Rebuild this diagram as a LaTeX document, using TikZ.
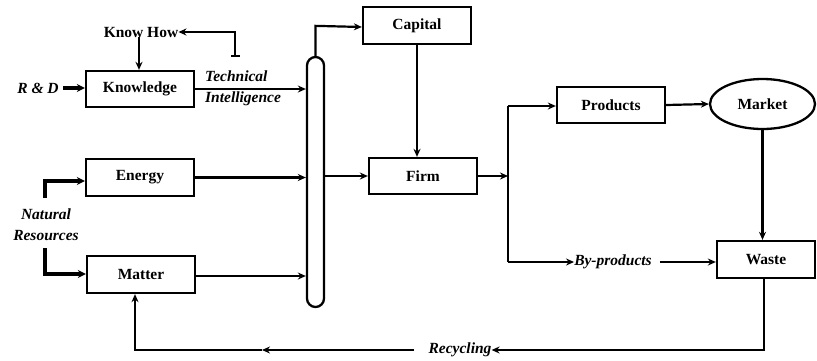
\documentclass[tikz,border=0pt]{standalone}
\usepackage{fontspec}
\setmainfont{Liberation Serif}
\usetikzlibrary{arrows.meta,calc,shapes.geometric}
\begin{document}
\begin{tikzpicture}[x=1pt,y=-1pt,
  box/.style={draw,line width=2.3pt,minimum width=108pt,minimum height=36pt,inner sep=0pt,font=\fontsize{15.5}{18}\selectfont\bfseries},
  lbl/.style={inner sep=0pt,font=\fontsize{15.5}{21}\selectfont\bfseries\itshape,align=left},
  plain/.style={inner sep=0pt,font=\fontsize{15.5}{18}\selectfont\bfseries},
  conn/.style={line width=2.2pt,-{Stealth[length=8pt,width=7pt]}},
  ln/.style={line width=2.2pt},
  thk/.style={line width=3.8pt,-{Stealth[length=8pt,width=8pt]}}]
\useasboundingbox (0,0) rectangle (817,360);
% nodes
\node[box] (know) at (140,89) {Knowledge};
\node[box,minimum height=37pt] (energy) at (140,177.5) {Energy};
\node[box,minimum height=37pt] (matter) at (141,274.5) {Matter};
\node[box,minimum height=37pt] (capital) at (417,25.5) {Capital};
\node[box] (firm) at (423,176) {Firm};
\node[box] (products) at (611,105) {Products};
\node[box,minimum width=98pt,minimum height=37pt] (waste) at (766,259.5) {Waste};
\node[draw,ellipse,line width=2.3pt,minimum width=105pt,minimum height=50pt,inner sep=0pt,font=\fontsize{15.5}{18}\selectfont\bfseries] (market) at (762.5,104) {Market};
\node[draw,line width=2.3pt,rounded corners=8.5pt,minimum width=17pt,minimum height=250pt,inner sep=0pt] (caps) at (315.5,182) {};
\node[plain] (knowhow) at (141,32) {Know How};
\node[lbl] (rd) at (38,88) {R \& D};
\node[lbl,anchor=west] (ti) at (205,88) {Technical\\Intelligence};
\node[lbl,align=center] (natres) at (46,225) {Natural\\Resources};
\node[lbl] (byprod) at (613,262) {By-products};
\node[lbl] (recyc) at (460,350) {Recycling};
% coordinates
\coordinate (fb) at (235,57);
\coordinate (split) at (508,176);
\coordinate (splittop) at (508,106);
\coordinate (splitbot) at (508,262);
\coordinate (nrtop) at (45,198);
\coordinate (nrbot) at (45,248);
\coordinate (rcmid) at (262,350);
\coordinate (rcleft) at (135,350);
\coordinate (wbot) at (764,350);
% connectors
\draw[thk] (rd.east) ++(4,0) -- (know.west |- rd.east);
\draw[conn] (knowhow.south -| 139,0) -- (know.north -| 139,0);
\draw[ln,{Bar[width=9pt,line width=2pt]}-{Stealth[length=8pt,width=7pt]}] (fb) -- (fb |- knowhow.east) -- (knowhow.east);
\draw[conn] (know.east) -- (know.east -| caps.west);
\draw[conn] (energy.east) -- (energy.east -| caps.west);
\draw[conn] ([yshift=-1.5pt]matter.east) -- ([yshift=-1.5pt]matter.east -| caps.west);
\draw[conn] (caps.east |- firm.west) -- (firm.west);
\draw[conn] (caps.north) -- ++(0,-30) -- ([yshift=-1.5pt]capital.west);
\draw[conn] (capital.south) -- (capital.south |- firm.north);
\draw[conn] (firm.east) -- (split);
\draw[ln] (splittop) -- (splitbot);
\draw[conn] (splittop) -- (products.west |- splittop);
\draw[conn] (splitbot) -- (byprod.west);
\draw[conn] (byprod.east) ++(8,0) -- (waste.west |- byprod.east);
\draw[conn] (products.east) -- (market.west);
\draw[conn] (market.south) -- (market.south |- waste.north);
\draw[conn] (waste.south -| wbot) -- (wbot) -- (recyc.east);
\draw[conn] (recyc.west) ++(-14,0) -- (rcmid);
\draw[conn] (rcmid) -- (rcleft) -- (rcleft |- matter.south);
\draw[thk] (nrtop) -- (45,181) -- ([yshift=-3.5pt]energy.west);
\draw[thk] (nrbot) -- (45,274) -- (matter.west |- 45,274);
\end{tikzpicture}
\end{document}
